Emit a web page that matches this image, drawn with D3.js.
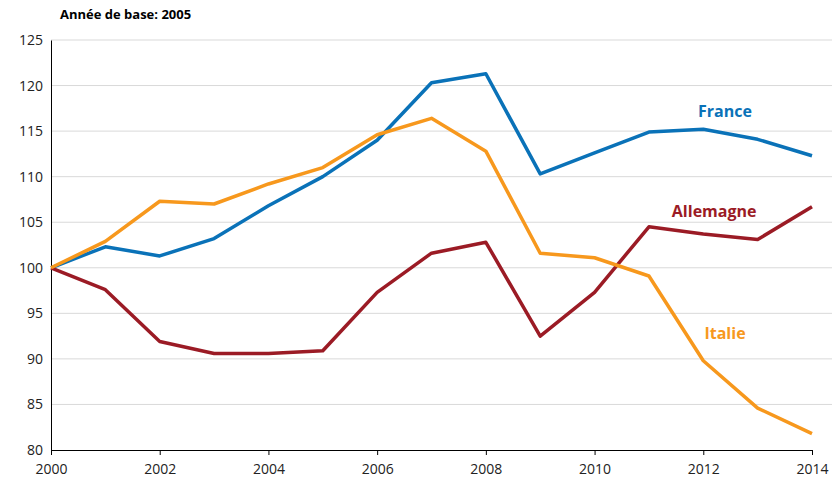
<!DOCTYPE html>
<html lang="fr">
<head>
<meta charset="utf-8">
<script src="https://d3js.org/d3.v7.min.js"></script>
<style>
  body { margin: 0; background: #fff; }
  text { font-family: "Open Sans", sans-serif; }
</style>
</head>
<body>
<svg id="chart" width="837" height="488"></svg>
<script>
var years = [2000, 2001, 2002, 2003, 2004, 2005, 2006, 2007, 2008, 2009, 2010, 2011, 2012, 2013, 2014];
var france = [100, 102.3, 101.3, 103.2, 106.8, 110, 114, 120.3, 121.3, 110.3, 112.6, 114.9, 115.2, 114.1, 112.3];
var italie = [100, 102.9, 107.3, 107, 109.2, 111, 114.6, 116.4, 112.8, 101.6, 101.1, 99.1, 89.8, 84.6, 81.8];
var allemagne = [100, 97.6, 91.9, 90.6, 90.6, 90.9, 97.3, 101.6, 102.8, 92.5, 97.3, 104.5, 103.7, 103.1, 106.7];
var yTicks = [80, 85, 90, 95, 100, 105, 110, 115, 120, 125];
var xTicks = [2000, 2002, 2004, 2006, 2008, 2010, 2012, 2014];

var series = [
  { name: "France", values: france, color: "#0a72b8", lx: 2012.4, ly: 116.6 },
  { name: "Allemagne", values: allemagne, color: "#9b1b25", lx: 2012.2, ly: 105.6 },
  { name: "Italie", values: italie, color: "#f7981d", lx: 2012.4, ly: 92.2 }
];

var svg = d3.select("#chart");
var mLeft = 51, mRight = 812, mTop = 40, mBottom = 450;
var x = d3.scaleLinear().domain([2000, 2014]).range([mLeft, mRight]);
var y = d3.scaleLinear().domain([80, 125]).range([mBottom, mTop]);

svg.append("text").attr("x", 60).attr("y", 19)
  .attr("font-size", 13).attr("font-weight", "bold").text("Année de base: 2005");

svg.append("g").selectAll("line").data(yTicks.slice(1)).join("line")
  .attr("x1", mLeft).attr("x2", mRight + 20)
  .attr("y1", d => y(d)).attr("y2", d => y(d))
  .attr("stroke", "#d9d9d9").attr("stroke-width", 1);

var ya = svg.append("g").attr("transform", "translate(" + mLeft + ",0)")
  .call(d3.axisLeft(y).tickValues(yTicks).tickSize(0).tickPadding(8));
ya.select(".domain").attr("stroke", "#000");
ya.selectAll("text").attr("font-size", 14).attr("fill", "#222");

var xa = svg.append("g").attr("transform", "translate(0," + mBottom + ")")
  .call(d3.axisBottom(x).tickValues(xTicks).tickFormat(d3.format("d")).tickSize(5).tickPadding(9));
xa.select(".domain").attr("stroke", "#000");
xa.selectAll("text").attr("font-size", 14).attr("fill", "#222");

var line = d3.line().x((d, i) => x(years[i])).y(d => y(d));
series.forEach(function (s) {
  svg.append("path").datum(s.values).attr("d", line)
    .attr("fill", "none").attr("stroke", s.color).attr("stroke-width", 3.5)
    .attr("stroke-linejoin", "round");
  svg.append("text").attr("x", x(s.lx)).attr("y", y(s.ly))
    .attr("text-anchor", "middle").attr("font-size", 16).attr("font-weight", "bold")
    .attr("fill", s.color).text(s.name);
});
</script>
</body>
</html>
